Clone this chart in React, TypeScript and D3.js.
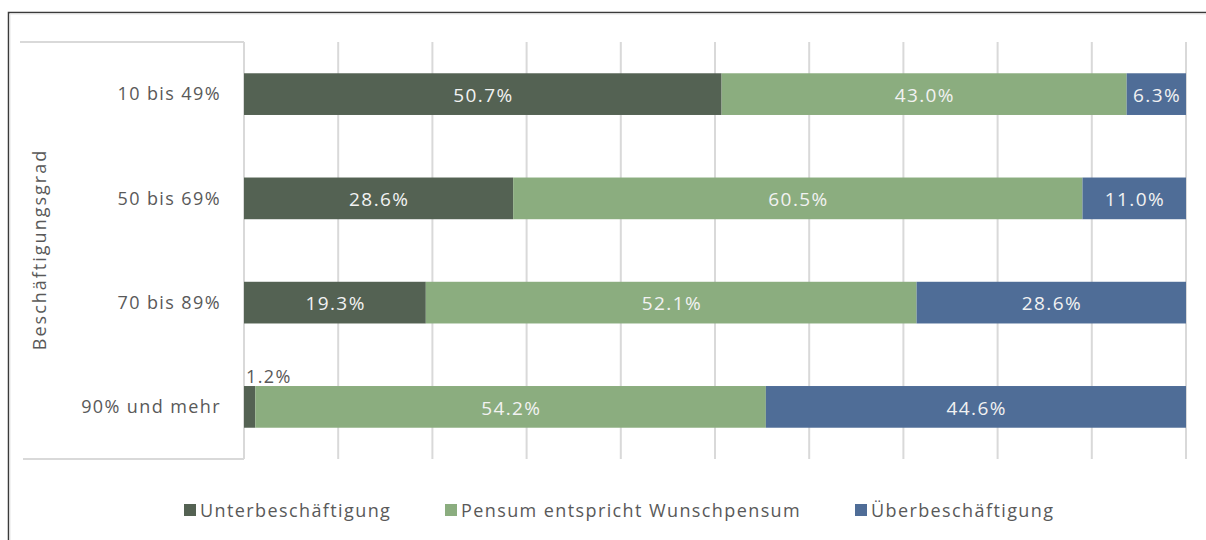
import React, { useEffect, useRef } from 'react';
import * as d3 from 'd3';

const categories = ['10 bis 49%', '50 bis 69%', '70 bis 89%', '90% und mehr'];
const seriesNames = ['Unterbeschäftigung', 'Pensum entspricht Wunschpensum', 'Überbeschäftigung'];
const unter = [50.7, 28.6, 19.3, 1.2];
const pensum = [43.0, 60.5, 52.1, 54.2];
const ueber = [6.3, 11.0, 28.6, 44.6];
const colors = ['#546253', '#8bad7f', '#4f6d97'];
const xTicks = [0, 10, 20, 30, 40, 50, 60, 70, 80, 90, 100];

const FONT = '"Open Sans", Calibri, sans-serif';

const App: React.FC = () => {
  const svgRef = useRef<SVGSVGElement>(null);

  useEffect(() => {
    if (!svgRef.current) return;
    const svg = d3.select(svgRef.current);
    svg.selectAll('*').remove();

    const W = 1206;
    const H = 540;
    const plot = { left: 244, right: 1186, top: 42, bottom: 459 };

    svg.append('rect').attr('width', W).attr('height', H).attr('fill', '#fff');

    // outer frame (only top/left visible in the crop)
    svg.append('path')
      .attr('d', `M8.5,${H} V12.5 H${W}`)
      .attr('fill', 'none')
      .attr('stroke', '#3a3a3a')
      .attr('stroke-width', 1.5);
    svg.append('path')
      .attr('d', `M10,${H} V14 H${W}`)
      .attr('fill', 'none')
      .attr('stroke', '#e6e6e6')
      .attr('stroke-width', 1);

    const table = categories.map((c, i) => ({
      cat: c,
      [seriesNames[0]]: unter[i],
      [seriesNames[1]]: pensum[i],
      [seriesNames[2]]: ueber[i],
    })) as any[];

    const stacked = d3.stack<any>()
      .keys(seriesNames)
      .offset(d3.stackOffsetExpand)(table);

    const x = d3.scaleLinear().domain([0, 100]).range([plot.left, plot.right]);
    const y = d3.scaleBand<string>()
      .domain(categories)
      .range([plot.top, plot.bottom])
      .paddingInner(0.6)
      .paddingOuter(0.3);

    // gridlines
    svg.append('g')
      .selectAll('line')
      .data(xTicks)
      .join('line')
      .attr('x1', d => x(d))
      .attr('x2', d => x(d))
      .attr('y1', plot.top)
      .attr('y2', plot.bottom)
      .attr('stroke', '#d9d9d9')
      .attr('stroke-width', 2);

    // category table lines
    svg.append('path')
      .attr('d', `M20,${plot.top} H${plot.left} M23,${plot.bottom} H${plot.left}`)
      .attr('stroke', '#d9d9d9')
      .attr('stroke-width', 2)
      .attr('fill', 'none');

    // bars
    stacked.forEach((layer, si) => {
      svg.append('g')
        .selectAll('rect')
        .data(layer)
        .join('rect')
        .attr('x', d => x(d[0] * 100))
        .attr('y', d => y(d.data.cat)!)
        .attr('width', d => x(d[1] * 100) - x(d[0] * 100))
        .attr('height', y.bandwidth())
        .attr('fill', colors[si]);
    });

    // value labels
    stacked.forEach(layer => {
      layer.forEach(d => {
        const v = d.data[layer.key] as number;
        const x0 = x(d[0] * 100);
        const x1 = x(d[1] * 100);
        const yc = y(d.data.cat)! + y.bandwidth() / 2;
        if (v < 3) {
          svg.append('text')
            .attr('x', x0 + 2)
            .attr('y', y(d.data.cat)! - 3)
            .attr('fill', '#595959')
            .style('font-family', FONT)
            .style('font-size', '18px')
            .style('letter-spacing', '1.4px')
            .text(v.toFixed(1) + '%');
        } else {
          svg.append('text')
            .attr('x', (x0 + x1) / 2 + 0.7)
            .attr('y', yc + 1)
            .attr('dy', '0.35em')
            .attr('text-anchor', 'middle')
            .attr('fill', '#f2f2f2')
            .style('font-family', FONT)
            .style('font-size', '19px')
            .style('letter-spacing', '1.4px')
            .text(v.toFixed(1) + '%');
        }
      });
    });

    // category labels
    svg.append('g')
      .selectAll('text')
      .data(categories)
      .join('text')
      .attr('x', 221)
      .attr('y', d => y(d)! + y.bandwidth() / 2)
      .attr('dy', '0.35em')
      .attr('text-anchor', 'end')
      .attr('fill', '#595959')
      .style('font-family', FONT)
      .style('font-size', '18px')
      .style('letter-spacing', '1.4px')
      .text(d => d);

    // axis title
    svg.append('text')
      .attr('transform', `translate(46,${(plot.top + plot.bottom) / 2 - 1}) rotate(-90)`)
      .attr('text-anchor', 'middle')
      .attr('fill', '#595959')
      .style('font-family', FONT)
      .style('font-size', '18px')
      .style('letter-spacing', '2px')
      .text('Beschäftigungsgrad');

    // legend
    const legendX = [184, 445, 855];
    const lg = svg.append('g');
    seriesNames.forEach((name, i) => {
      lg.append('rect')
        .attr('x', legendX[i])
        .attr('y', 504)
        .attr('width', 12)
        .attr('height', 12)
        .attr('fill', colors[i]);
      lg.append('text')
        .attr('x', legendX[i] + 16)
        .attr('y', 511)
        .attr('dy', '0.35em')
        .attr('fill', '#595959')
        .style('font-family', FONT)
        .style('font-size', '18px')
        .style('letter-spacing', '1.4px')
        .text(name);
    });
  }, []);

  return (
    <svg
      ref={svgRef}
      width={1206}
      height={540}
      style={{ position: 'absolute', left: 0, top: 0, display: 'block' }}
    />
  );
};

export default App;
